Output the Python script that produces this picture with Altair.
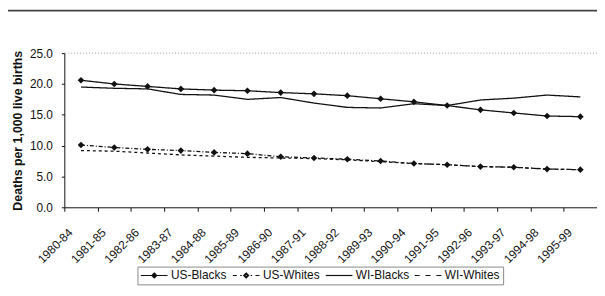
import altair as alt
import pandas as pd

periods = ["1980-84", "1981-85", "1982-86", "1983-87", "1984-88", "1985-89",
           "1986-90", "1987-91", "1988-92", "1989-93", "1990-94", "1991-95",
           "1992-96", "1993-97", "1994-98", "1995-99"]
series = ["US-Blacks", "US-Whites", "WI-Blacks", "WI-Whites"]
us_blacks = [20.6, 20.0, 19.6, 19.2, 19.0, 18.9, 18.6, 18.4, 18.1, 17.6, 17.1, 16.5, 15.8, 15.3, 14.8, 14.7]
us_whites = [10.1, 9.7, 9.4, 9.2, 8.9, 8.7, 8.2, 8.0, 7.8, 7.5, 7.1, 6.9, 6.6, 6.5, 6.2, 6.1]
wi_blacks = [19.5, 19.3, 19.2, 18.3, 18.2, 17.5, 17.8, 16.9, 16.2, 16.1, 16.8, 16.5, 17.4, 17.7, 18.2, 17.9]
wi_whites = [9.2, 9.1, 8.8, 8.5, 8.3, 8.1, 8.0, 7.9, 7.7, 7.4, 7.1, 6.9, 6.6, 6.5, 6.2, 6.1]
y_ticks = [0, 5, 10, 15, 20, 25]

values = {"US-Blacks": us_blacks, "US-Whites": us_whites,
          "WI-Blacks": wi_blacks, "WI-Whites": wi_whites}
rows = []
for s in series:
    for p, v in zip(periods, values[s]):
        rows.append({"period": p, "series": s, "name": s, "rate": v})
df = pd.DataFrame(rows)
label_df = pd.DataFrame({"period": periods})

FONT = "Liberation Sans"
INK = "#111111"
W, H = 539, 156

x_scale = alt.Scale(type="band", paddingInner=0, paddingOuter=0)
y_scale = alt.Scale(domain=[0, 25], nice=False)

x_axis = alt.Axis(title=None, tickBand="extent", labels=False)
y_axis = alt.Axis(title="Deaths per 1,000 live births", values=y_ticks, tickCount=6,
                  format=".1f", titleX=-40, titleY=78, labelOverlap=False)
x_main = alt.X("period:N", sort=periods, bandPosition=0.5, scale=x_scale, axis=x_axis)
y_main = alt.Y("rate:Q", scale=y_scale, axis=y_axis)

dash_scale = alt.Scale(range=[[1, 0], [4, 2, 1, 2], [1, 0], [3, 3]])

lines = alt.Chart(df).mark_line(color=INK, strokeWidth=1.3).encode(
    x=x_main, y=y_main,
    strokeDash=alt.StrokeDash("series:N", scale=dash_scale, legend=None),
    detail="series:N",
)

points = alt.Chart(df).transform_filter(
    alt.FieldOneOfPredicate(field="series", oneOf=["US-Blacks", "US-Whites"])
).mark_point(shape="diamond", filled=True, color=INK, size=45, opacity=1).encode(
    x=x_main, y=y_main,
)

x_labels = alt.Chart(label_df).mark_text(
    angle=315, align="right", baseline="top", font=FONT, fontSize=12, color=INK
).encode(
    x=alt.X("period:N", sort=periods, bandPosition=0.084, scale=x_scale, axis=x_axis),
    y=alt.value(176),
    text="period:N",
)

paths = [
    "M-1.1,0H4.3M1.6,-0.5L2.1,0L1.6,0.5L1.1,0ZM1.6,-0.25L1.85,0L1.6,0.25L1.35,0Z",
    "M-1.1,0H-0.3M0.4,0H0.7M1.6,-0.5L2.1,0L1.6,0.5L1.1,0ZM1.6,-0.25L1.85,0L1.6,0.25L1.35,0ZM2.5,0H2.8M3.5,0H4.3",
    "M-1.1,0H4.3",
    "M-1.1,0H-0.1M1.1,0H2.1M3.3,0H4.3",
]

legend_layer = alt.Chart(df).mark_point(filled=False, color=INK, strokeWidth=1.2,
                                        opacity=0).encode(
    x=x_main, y=y_main,
    shape=alt.Shape("name:N", sort=series, scale=alt.Scale(range=paths),
                    legend=alt.Legend(title=None, orient="none", direction="horizontal",
                                      legendX=74, legendY=216, columns=4,
                                      symbolSize=100, symbolOpacity=1,
                                      symbolStrokeColor=INK, symbolStrokeWidth=1.2,
                                      labelFont=FONT, labelFontSize=12, labelColor=INK,
                                      labelOffset=19, columnPadding=3, padding=3,
                                      strokeColor="#888888")),
)

grid25 = alt.Chart(pd.DataFrame({"rate": [25]})).mark_rule(
    color="#9a9a9a", strokeDash=[1, 2], strokeWidth=1).encode(y=y_main)

header = alt.Chart(pd.DataFrame({"v": [0]})).mark_rule(
    color="#444444", strokeWidth=2).encode(
    x=alt.value(-57), x2=alt.value(W), y=alt.value(-43))

chart = alt.layer(header, grid25, lines, points, x_labels, legend_layer).properties(
    width=W, height=H,
    autosize=alt.AutoSizeParams(type="none"),
    padding={"left": 57, "top": 44, "right": 0, "bottom": 80},
).configure_view(stroke=None).configure_axis(
    labelFont=FONT, labelFontSize=12, labelColor=INK,
    titleFont=FONT, titleFontSize=12.5, titleFontWeight="bold", titleColor=INK,
    tickColor=INK, domainColor=INK, grid=False,
).configure_axisX(
    tickSize=4, labels=False,
).configure_axisY(
    tickSize=3, labelPadding=9, tickCount=6,
)

chart.save("out.html", embed_options={"renderer": "svg", "actions": False})
